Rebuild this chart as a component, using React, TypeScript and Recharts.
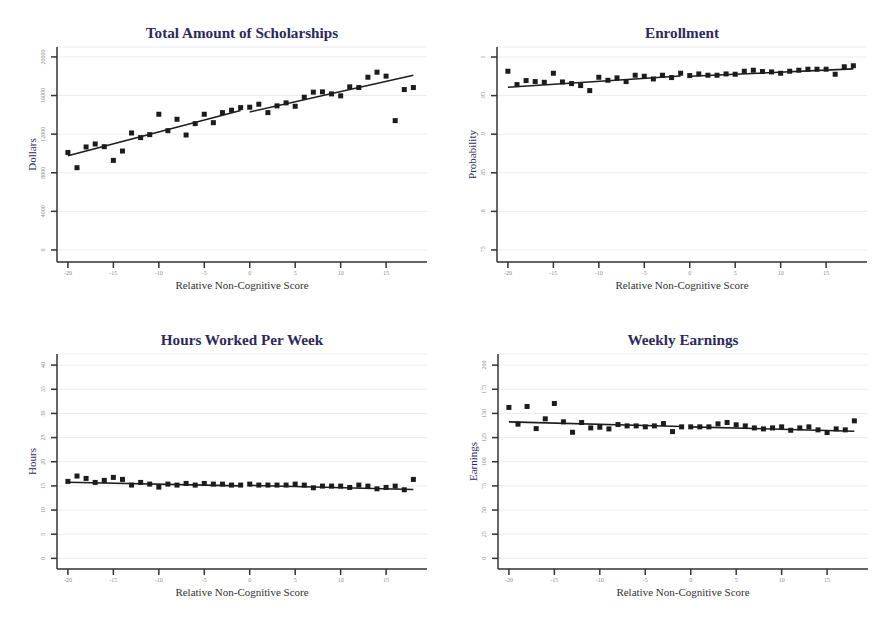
import { ScatterChart, Scatter, XAxis, YAxis, CartesianGrid } from 'recharts'

// running variable (bins of the relative non-cognitive score)
const scores = [
  -20, -19, -18, -17, -16, -15, -14, -13, -12, -11, -10, -9, -8, -7, -6, -5, -4, -3, -2, -1,
  0, 1, 2, 3, 4, 5, 6, 7, 8, 9, 10, 11, 12, 13, 14, 15, 16, 17, 18,
]

const scholarships = [
  10100, 8520, 10670, 10980, 10700, 9280, 10250, 12120, 11640, 11950, 14060, 12360, 13540, 11910,
  13090, 14060, 13190, 14230, 14480, 14750, 14790, 15100, 14230, 14930, 15240, 14890, 15830, 16350,
  16380, 16170, 15970, 16900, 16830, 17900, 18420, 18010, 13400, 16620, 16830,
]

const enrollment = [
  0.9816, 0.9643, 0.9695, 0.9682, 0.9673, 0.979, 0.9677, 0.9656, 0.963, 0.9565, 0.9738, 0.9699,
  0.973, 0.9682, 0.9764, 0.9751, 0.9716, 0.9764, 0.9734, 0.979, 0.976, 0.9781, 0.9764, 0.9764,
  0.9781, 0.9777, 0.9816, 0.9829, 0.9812, 0.9807, 0.979, 0.9816, 0.9829, 0.9842, 0.9842, 0.9842,
  0.9777, 0.9874, 0.9887,
]

const hours = [
  15.93, 17.04, 16.55, 15.72, 16.14, 16.76, 16.34, 15.17, 15.72, 15.37, 14.75, 15.37, 15.17, 15.51,
  15.17, 15.51, 15.37, 15.37, 15.17, 15.17, 15.37, 15.17, 15.17, 15.17, 15.17, 15.37, 15.17, 14.61,
  14.96, 14.96, 14.96, 14.68, 15.17, 14.96, 14.4, 14.68, 14.96, 14.2, 16.34,
]

const earnings = [
  156.2, 138.9, 157.2, 134.3, 144.4, 160.3, 141.3, 130.5, 140.6, 135.0, 135.7, 134.0, 138.5, 137.1,
  137.1, 136.1, 137.1, 139.5, 131.2, 136.1, 136.1, 136.1, 136.1, 139.2, 140.6, 138.2, 137.1, 135.0,
  134.0, 135.0, 136.1, 132.6, 135.0, 136.1, 133.0, 130.2, 134.0, 133.0, 142.3,
]

// linear fits on each side of the cutoff
const fitLeftX = [-20, -1]
const fitRightX = [0, 18]
const scholarshipFitLeft = [9750, 14450]
const scholarshipFitRight = [14300, 18100]
const enrollmentFitLeft = [0.9608, 0.9755]
const enrollmentFitRight = [0.975, 0.9846]
const hoursFitLeft = [15.75, 15.0]
const hoursFitRight = [15.1, 14.27]
const earningsFitLeft = [141.3, 136.4]
const earningsFitRight = [136.1, 131.6]

const xTicks = [-20, -15, -10, -5, 0, 5, 10, 15]
const dollarTicks = [0, 4000, 8000, 12000, 16000, 20000]
const probTicks = [0.75, 0.8, 0.85, 0.9, 0.95, 1]
const hourTicks = [0, 5, 10, 15, 20, 25, 30, 35, 40]
const earningTicks = [0, 25, 50, 75, 100, 125, 150, 175, 200]

const SERIF = '"Liberation Serif", "DejaVu Serif", serif'
const NAVY = '#2d2a5a'
const INK = '#1c1c1c'

const toPoints = (xs: number[], ys: number[]) => xs.map((x, i) => ({ x, y: ys[i] }))

const dropZero = (v: number) => (v === 1 ? '1' : String(v).replace(/^0\./, '.'))

const Square = (p: any) => <rect x={p.cx - 2.5} y={p.cy - 2.5} width={5} height={5} fill={INK} />

const YTick = (p: any) => {
  const bx = p.x - 4
  return (
    <text
      x={bx}
      y={p.y}
      transform={`rotate(-90 ${bx} ${p.y})`}
      textAnchor="middle"
      fontSize={6}
      fontFamily={SERIF}
      fill="#8c8c8c"
    >
      {p.fmt ? p.fmt(p.payload.value) : p.payload.value}
    </text>
  )
}

const XTick = (p: any) => (
  <text x={p.x} y={p.y} dy="0.71em" textAnchor="middle" fontSize={6} fontFamily={SERIF} fill="#8c8c8c">
    {p.payload.value}
  </text>
)

type PanelProps = {
  title: string
  yLabel: string
  values: number[]
  fitLeft: number[]
  fitRight: number[]
  domain: [number, number]
  ticks: number[]
  fmt?: (v: number) => string
  left: number
  top: number
}

const Panel = ({ title, yLabel, values, fitLeft, fitRight, domain, ticks, fmt, left, top }: PanelProps) => {
  const points = toPoints(scores, values)
  return (
    <div style={{ position: 'absolute', left, top, width: 440, height: 300 }}>
      <div
        style={{
          position: 'absolute',
          left: 57,
          width: 370,
          top: 24,
          textAlign: 'center',
          fontFamily: SERIF,
          fontSize: 15.2,
          lineHeight: '18px',
          fontWeight: 'bold',
          color: NAVY,
        }}
      >
        {title}
      </div>
      <ScatterChart width={440} height={300} margin={{ top: 47, right: 13, bottom: 0, left: 0 }}>
        <CartesianGrid vertical={false} stroke="#ececec" strokeWidth={1} />
        <XAxis
          dataKey="x"
          type="number"
          domain={[-21.2, 19.5]}
          ticks={xTicks}
          allowDataOverflow
          height={38}
          stroke="#333"
          strokeWidth={1.5}
          tickSize={6}
          tickMargin={3}
          tick={<XTick />}
          label={(lp: any) => (
            <text
              x={lp.viewBox.x + lp.viewBox.width / 2}
              y={lp.viewBox.y + 27}
              textAnchor="middle"
              fontSize={11}
              fontFamily={SERIF}
              fill="#333"
            >
              Relative Non-Cognitive Score
            </text>
          )}
        />
        <YAxis
          dataKey="y"
          type="number"
          domain={domain}
          ticks={ticks}
          allowDataOverflow
          width={57}
          stroke="#333"
          strokeWidth={1.5}
          tickSize={6}
          tickMargin={2}
          tick={<YTick fmt={fmt} />}
          label={(lp: any) => {
            const lx = lp.viewBox.x + lp.viewBox.width - 21.5
            const ly = lp.viewBox.y + lp.viewBox.height / 2
            return (
              <text
                x={lx}
                y={ly}
                transform={`rotate(-90 ${lx} ${ly})`}
                textAnchor="middle"
                fontSize={11}
                fontFamily={SERIF}
                fill={NAVY}
              >
                {yLabel}
              </text>
            )
          }}
        />
        <Scatter data={points} shape={Square} isAnimationActive={false} />
        <Scatter
          data={toPoints(fitLeftX, fitLeft)}
          line={{ stroke: INK, strokeWidth: 1.6 }}
          shape={() => <g />}
          isAnimationActive={false}
        />
        <Scatter
          data={toPoints(fitRightX, fitRight)}
          line={{ stroke: INK, strokeWidth: 1.6 }}
          shape={() => <g />}
          isAnimationActive={false}
        />
      </ScatterChart>
    </div>
  )
}

export default function App() {
  return (
    <div style={{ position: 'absolute', left: 0, top: 0, width: 885, height: 618, background: '#fff' }}>
      <Panel
        title="Total Amount of Scholarships"
        yLabel="Dollars"
        values={scholarships}
        fitLeft={scholarshipFitLeft}
        fitRight={scholarshipFitRight}
        domain={[-1250, 21030]}
        ticks={dollarTicks}
        left={0}
        top={0}
      />
      <Panel
        title="Enrollment"
        yLabel="Probability"
        values={enrollment}
        fitLeft={enrollmentFitLeft}
        fitRight={enrollmentFitRight}
        domain={[0.7344, 1.013]}
        ticks={probTicks}
        fmt={dropZero}
        left={440}
        top={0}
      />
      <Panel
        title="Hours Worked Per Week"
        yLabel="Hours"
        values={hours}
        fitLeft={hoursFitLeft}
        fitRight={hoursFitRight}
        domain={[-2.2, 42.3]}
        ticks={hourTicks}
        left={0}
        top={307}
      />
      <Panel
        title="Weekly Earnings"
        yLabel="Earnings"
        values={earnings}
        fitLeft={earningsFitLeft}
        fitRight={earningsFitRight}
        domain={[-11, 211.5]}
        ticks={earningTicks}
        left={441}
        top={307}
      />
    </div>
  )
}
